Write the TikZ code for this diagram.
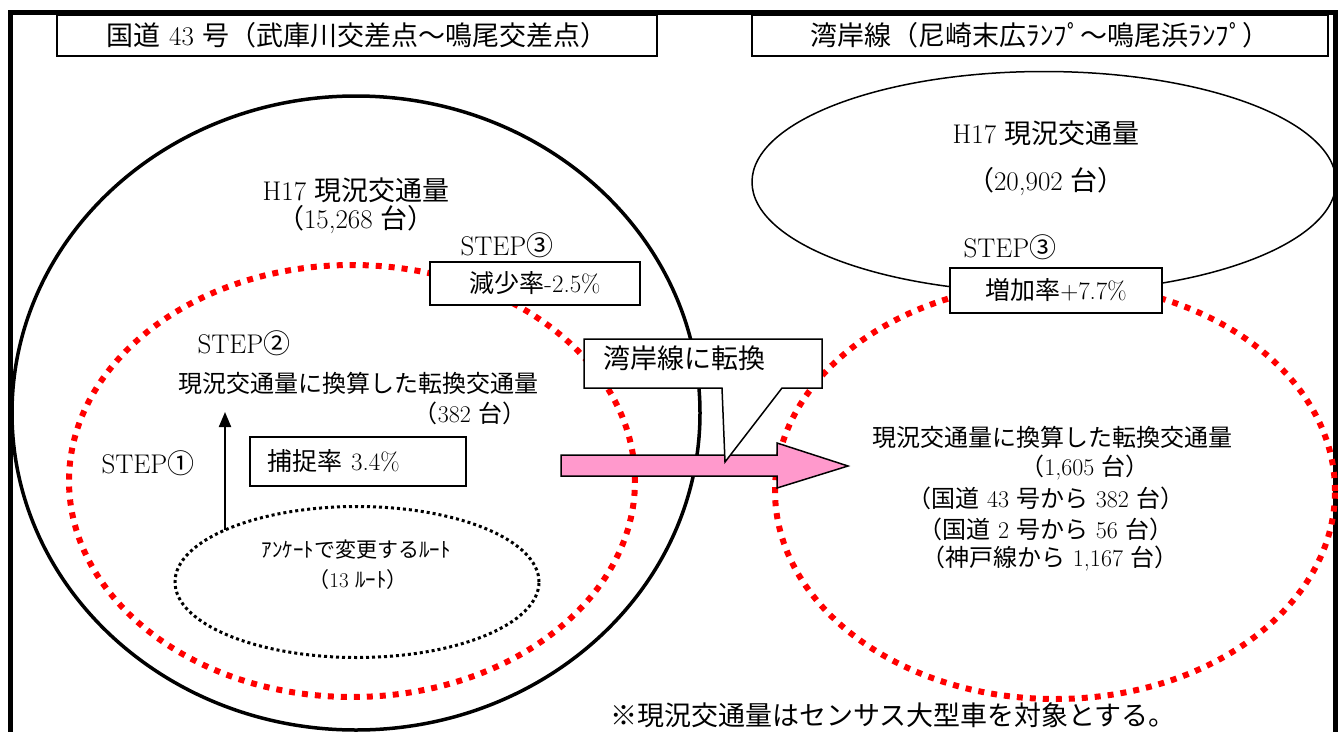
\documentclass[tikz,border=0pt]{standalone}
\usepackage{fontspec}
\newfontfamily\jp{Noto Sans CJK JP}
\newcommand\J[1]{{\jp #1}}
\usetikzlibrary{shapes.geometric,arrows.meta}
\definecolor{pinkarrow}{HTML}{FF99CC}
\tikzset{
  framestyle/.style={line width=5pt},
  titlebox/.style={draw, line width=1.5pt, fill=white, inner sep=0pt, font=\fontsize{27}{30}\selectfont},
  ratebox/.style={draw, line width=1.5pt, fill=white, inner sep=0pt, font=\fontsize{25}{30}\selectfont},
  ell/.style={ellipse, inner sep=0pt, outer sep=0pt},
  reddot/.style={ell, draw=red, line width=6pt, dash pattern=on 6pt off 7pt},
  txt/.style={inner sep=0pt, font=\fontsize{24}{28}\selectfont},
  bigtxt/.style={inner sep=0pt, font=\fontsize{27}{30}\selectfont},
  smalltxt/.style={inner sep=0pt, font=\fontsize{21}{25}\selectfont},
}
\begin{document}
\begin{tikzpicture}[x=1pt,y=-1pt]
\useasboundingbox (0,0) rectangle (1344,731);
\clip (0,0) rectangle (1344,731);
\fill[white] (0,0) rectangle (1344,731);
% outer frame
\draw[framestyle] (10,790) -- (10,12.5) -- (1335.5,12.5) -- (1335.5,790);
% title boxes
\node[titlebox, minimum width=600pt, minimum height=41pt] (ttlL) at (357,35.5) {\J{国道} 43 \J{号（武庫川交差点～鳴尾交差点）}};
\node[titlebox, minimum width=576pt, minimum height=41pt] (ttlR) at (1040,35.5) {\J{湾岸線（尼崎末広ﾗﾝﾌﾟ～鳴尾浜ﾗﾝﾌﾟ）}};
% ellipses
\node[ell, draw, line width=3.5pt, minimum width=688pt, minimum height=634pt] (bigL) at (356,413) {};
\node[reddot, minimum width=566pt, minimum height=432pt] (redL) at (352,481) {};
\node[ell, draw, line width=3pt, dash pattern=on 3pt off 3pt, minimum width=364pt, minimum height=151pt] (route) at (357,582) {};
\node[ell, draw, line width=1.5pt, minimum width=584pt, minimum height=221pt] (ellR) at (1044,182) {};
\node[reddot, minimum width=560pt, minimum height=416pt] (redR) at (1055,491) {};
% left texts
\node[bigtxt] (h17L) at (356,190) {H17 \J{現況交通量}};
\node[bigtxt] (volL) at (356,220) {\J{（}15,268 \J{台）}};
\node[bigtxt] (s3L) at (507,245) {STEP\J{③}};
\node[ratebox, minimum width=210pt, minimum height=43pt] (decr) at (535,283.5) {\J{減少率}-2.5\%};
\node[bigtxt] (s2) at (244,343) {STEP\J{②}};
\node[txt] (convL) at (358,383) {\J{現況交通量に換算した転換交通量}};
\node[txt] (n382) at (470,413) {\J{（}382 \J{台）}};
\node[bigtxt] (s1) at (148,463) {STEP\J{①}};
\node[ratebox, anchor=west, minimum height=49pt, text width=180pt, inner xsep=18pt, align=left] (capt) at (249,461.5) {\J{捕捉率} 3.4\%};
\node[smalltxt] (rt1) at (356,550) {\J{ｱﾝｹｰﾄで変更するﾙｰﾄ}};
\node[smalltxt] (rt2) at (358,580) {\J{（}13 \J{ﾙｰﾄ）}};
\coordinate (afoot) at (225,530);
\coordinate (atop) at (225,412);
\draw[line width=2pt, -{Triangle[width=12pt,length=15pt]}] (afoot) -- (atop);
% right texts
\node[bigtxt] (h17R) at (1046,133) {H17 \J{現況交通量}};
\node[bigtxt] (volR) at (1046,182) {\J{（}20,902 \J{台）}};
\node[bigtxt] (s3R) at (1010,247) {STEP\J{③}};
\node[ratebox, minimum width=212pt, minimum height=45pt] (incr) at (1056,290.5) {\J{増加率}+7.7\%};
\node[txt] (convR) at (1052,437) {\J{現況交通量に換算した転換交通量}};
\node[txt] (r1) at (1085,468) {\J{（}1,605 \J{台）}};
\node[txt] (r2) at (1046,498) {\J{（国道} 43 \J{号から} 382 \J{台）}};
\node[txt] (r3) at (1046,529) {\J{（国道} 2 \J{号から} 56 \J{台）}};
\node[txt] (r4) at (1050,559) {\J{（神戸線から} 1,167 \J{台）}};
% pink arrow
\draw[line width=1.5pt, fill=pinkarrow, line join=miter] (561,455) -- (777,455) -- (777,443) -- (848,466) -- (777,488) -- (777,476) -- (561,476) -- cycle;
% callout
\draw[line width=1.5pt, fill=white, line join=miter] (584,339) -- (822,339) -- (822,388) -- (782,388) -- (725,462) -- (722,388) -- (584,388) -- cycle;
\node[bigtxt, anchor=west] (callout) at (603,358) {\J{湾岸線に転換}};
% note
\node[bigtxt, anchor=west] (note) at (610,715) {\J{※現況交通量はセンサス大型車を対象とする。}};
\end{tikzpicture}
\end{document}
